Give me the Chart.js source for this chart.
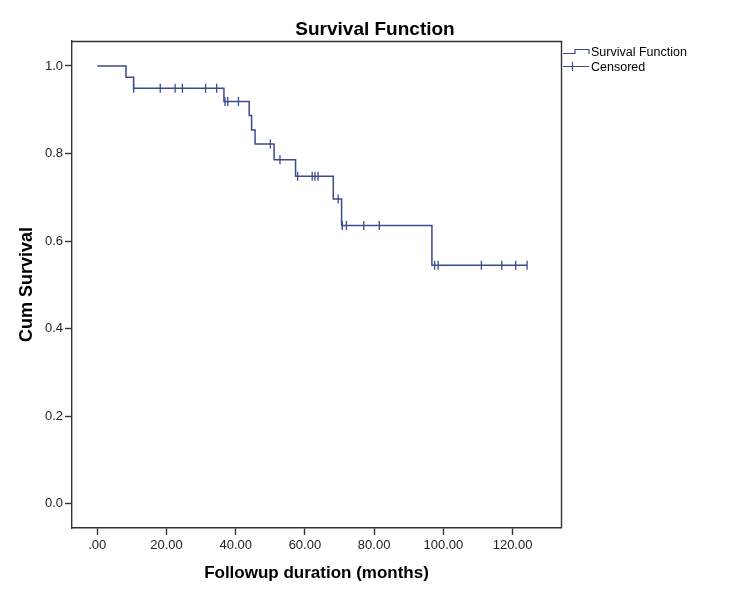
<!DOCTYPE html>
<html>
<head>
<meta charset="utf-8">
<script src="https://cdn.jsdelivr.net/npm/chart.js@4/dist/chart.umd.min.js"></script>
<style>
  body { margin: 0; background: #fff; }
  #wrap { width: 750px; height: 600px; }
</style>
</head>
<body>
<div id="wrap"><canvas id="kmChart" width="750" height="600"></canvas></div>
<script>
// step points of the survival curve (time in months, cum survival)
const stepTimes = [0, 8.3, 10.5, 36.6, 43.9, 44.6, 45.6, 51.1, 57.3, 68.2, 70.6, 96.7, 124.2];
const stepSurv = [1.0, 0.974, 0.949, 0.919, 0.887, 0.854, 0.822, 0.786, 0.748, 0.696, 0.636, 0.545, 0.545];

// censored cases
const censTimes = [10.5, 18.2, 22.5, 24.6, 31.3, 34.5, 36.9, 37.7, 40.8, 50.0, 52.8, 57.9, 62.1, 62.9, 63.8, 69.6, 70.8, 72.0, 77.0, 81.5, 97.5, 98.5, 111.0, 116.9, 120.9, 124.2];
const censSurv = [0.949, 0.949, 0.949, 0.949, 0.949, 0.949, 0.919, 0.919, 0.919, 0.822, 0.786, 0.748, 0.748, 0.748, 0.748, 0.696, 0.636, 0.636, 0.636, 0.636, 0.545, 0.545, 0.545, 0.545, 0.545, 0.545];

const xTicks = [0, 20, 40, 60, 80, 100, 120];
const xTickLabels = ['.00', '20.00', '40.00', '60.00', '80.00', '100.00', '120.00'];
const yTicks = [0, 0.2, 0.4, 0.6, 0.8, 1.0];
const yTickLabels = ['0.0', '0.2', '0.4', '0.6', '0.8', '1.0'];

const lineColor = '#3d4b8c';
const axisColor = '#333333';
const FONT = 'Arial, "Liberation Sans", sans-serif';

// title, frame and legend drawn by hand (SPSS style)
const decorPlugin = {
  id: 'decor',
  afterDraw(chart) {
    const { ctx, chartArea } = chart;
    ctx.save();
    // frame top / right
    ctx.strokeStyle = axisColor;
    ctx.lineWidth = 1.4;
    ctx.beginPath();
    ctx.moveTo(chartArea.left, chartArea.top + 0.5);
    ctx.lineTo(chartArea.right + 0.5, chartArea.top + 0.5);
    ctx.lineTo(chartArea.right + 0.5, chartArea.bottom);
    ctx.stroke();

    // title
    ctx.fillStyle = '#000';
    ctx.font = 'bold 19px ' + FONT;
    ctx.textAlign = 'center';
    ctx.textBaseline = 'alphabetic';
    ctx.fillText('Survival Function', 375, 34.5);

    // legend
    const lx = chartArea.right + 2;
    ctx.strokeStyle = lineColor;
    ctx.lineWidth = 1.2;
    ctx.beginPath();
    ctx.moveTo(lx, 53.5);
    ctx.lineTo(lx + 12, 53.5);
    ctx.lineTo(lx + 12, 49.5);
    ctx.lineTo(lx + 26, 49.5);
    ctx.lineTo(lx + 26, 54);
    ctx.stroke();
    ctx.beginPath();
    ctx.moveTo(lx, 66.5);
    ctx.lineTo(lx + 26, 66.5);
    ctx.moveTo(lx + 9.5, 62);
    ctx.lineTo(lx + 9.5, 71);
    ctx.stroke();

    ctx.fillStyle = '#000';
    ctx.font = '12.5px ' + FONT;
    ctx.textAlign = 'left';
    ctx.fillText('Survival Function', lx + 28, 56);
    ctx.fillText('Censored', lx + 28, 70.5);
    ctx.restore();
  }
};

const ctx = document.getElementById('kmChart');

new Chart(ctx, {
  type: 'line',
  data: {
    datasets: [
      {
        label: 'Survival Function',
        data: stepTimes.map((t, i) => ({ x: t, y: stepSurv[i] })),
        borderColor: lineColor,
        borderWidth: 1.5,
        stepped: true,
        pointRadius: 0,
        fill: false
      },
      {
        label: 'Censored',
        type: 'scatter',
        data: censTimes.map((t, i) => ({ x: t, y: censSurv[i] })),
        borderColor: lineColor,
        backgroundColor: lineColor,
        pointStyle: 'line',
        rotation: 90,
        pointRadius: 4.5,
        pointBorderWidth: 1.3
      }
    ]
  },
  options: {
    responsive: false,
    animation: false,
    layout: {
      padding: { top: 41, right: 189, left: 0, bottom: 0 }
    },
    plugins: {
      legend: { display: false },
      title: { display: false },
      tooltip: { enabled: false }
    },
    scales: {
      x: {
        type: 'linear',
        min: -7.3,
        max: 134,
        afterFit: (scale) => { scale.height = 72; },
        afterBuildTicks: (scale) => { scale.ticks = xTicks.map(v => ({ value: v })); },
        grid: {
          drawOnChartArea: false,
          drawTicks: true,
          tickLength: 7,
          tickWidth: 1.4,
          tickColor: axisColor
        },
        border: { display: true, color: axisColor, width: 1.4 },
        ticks: {
          color: '#222',
          padding: 3,
          maxRotation: 0,
          font: { family: FONT, size: 13 },
          callback: (value, index) => xTickLabels[index]
        },
        title: {
          display: true,
          text: 'Followup duration (months)',
          color: '#000',
          font: { family: FONT, size: 17, weight: 'bold' },
          padding: { top: 0, bottom: 16 }
        }
      },
      y: {
        type: 'linear',
        min: -0.055,
        max: 1.057,
        afterFit: (scale) => { scale.width = 72; },
        afterBuildTicks: (scale) => { scale.ticks = yTicks.map(v => ({ value: v })); },
        grid: {
          drawOnChartArea: false,
          drawTicks: true,
          tickLength: 7,
          tickWidth: 1.4,
          tickColor: axisColor
        },
        border: { display: true, color: axisColor, width: 1.4 },
        ticks: {
          color: '#222',
          padding: 2,
          font: { family: FONT, size: 13 },
          callback: (value, index) => yTickLabels[index]
        },
        title: {
          display: true,
          text: 'Cum Survival',
          color: '#000',
          font: { family: FONT, size: 18, weight: 'bold' },
          padding: { top: 16, bottom: 0 }
        }
      }
    }
  },
  plugins: [decorPlugin]
});
</script>
</body>
</html>
